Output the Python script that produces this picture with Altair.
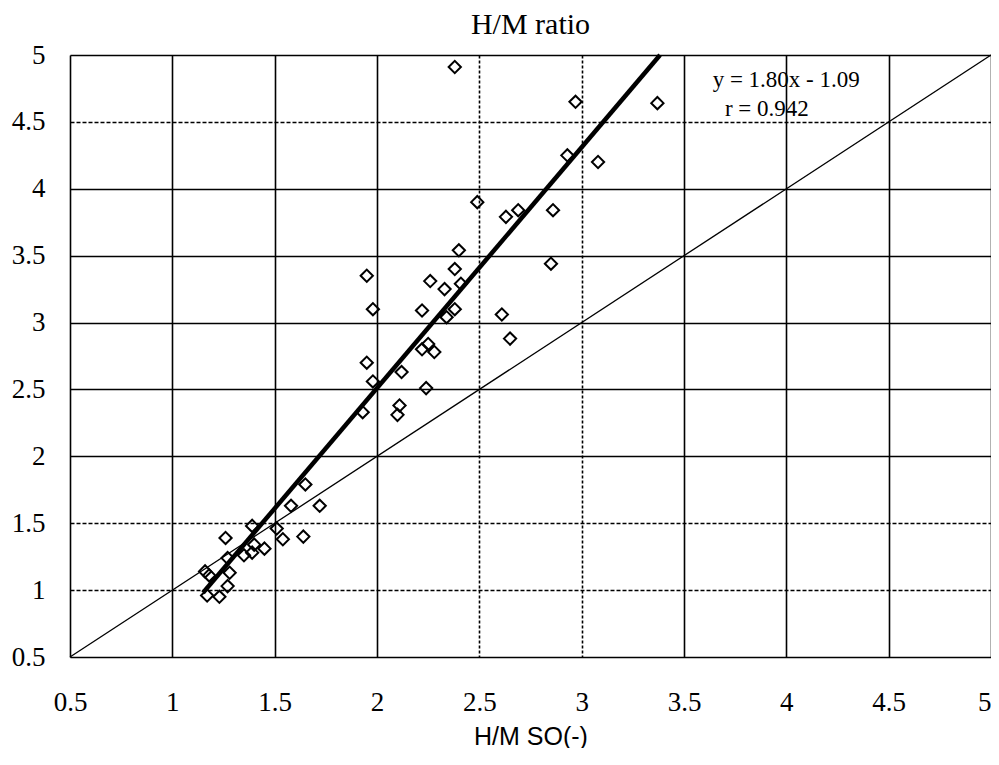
import altair as alt
import pandas as pd

# scatter values
x_vals = [2.38, 2.97, 3.37, 2.93, 3.08, 2.49, 2.63, 2.69, 2.86, 2.40,
          2.85, 1.95, 2.38, 2.26, 2.33, 2.41, 1.98, 2.22, 2.38, 2.34,
          2.61, 2.65, 2.22, 2.25, 2.28, 1.95, 2.12, 1.98, 2.24, 2.11,
          2.10, 1.93, 1.65, 1.58, 1.72, 1.39, 1.51, 1.26, 1.54, 1.64,
          1.40, 1.45, 1.35, 1.39, 1.27, 1.16, 1.18, 1.28, 1.27, 1.17, 1.23]
y_vals = [4.91, 4.65, 4.64, 4.25, 4.20, 3.90, 3.79, 3.84, 3.84, 3.54,
          3.44, 3.35, 3.40, 3.31, 3.25, 3.29, 3.10, 3.09, 3.10, 3.04,
          3.06, 2.88, 2.80, 2.84, 2.78, 2.70, 2.63, 2.56, 2.51, 2.38,
          2.31, 2.33, 1.79, 1.63, 1.63, 1.48, 1.46, 1.39, 1.38, 1.40,
          1.34, 1.31, 1.26, 1.28, 1.24, 1.14, 1.11, 1.13, 1.03, 0.96, 0.95]

# regression y = 1.80x - 1.09, drawn between its visible ends
slope = 1.80
intercept = -1.09
fit_x = [1.15, 3.383]
fit_y = [slope * v + intercept for v in fit_x]

# 1:1 line
diag_x = [0.5, 5.0]
diag_y = [0.5, 5.0]

tick_vals = [0.5, 1, 1.5, 2, 2.5, 3, 3.5, 4, 4.5, 5]

ann_text = ["y = 1.80x - 1.09", "r = 0.942"]
ann_x = [3.64, 3.70]
ann_y = [4.81, 4.60]

pts = pd.DataFrame({"x": x_vals, "y": y_vals})
fit = pd.DataFrame({"x": fit_x, "y": fit_y})
diag = pd.DataFrame({"x": diag_x, "y": diag_y})
ann = pd.DataFrame({"t": ann_text, "x": ann_x, "y": ann_y})

serif = "Liberation Serif"

xscale = alt.Scale(domain=[0.5, 5], nice=False, zero=False)
yscale = alt.Scale(domain=[0.5, 5], nice=False, zero=False)

xaxis = alt.Axis(
    values=tick_vals, format="~g", title="H/M SO(-)",
    titleFont="Liberation Sans", titleFontSize=25, titleFontWeight="normal",
    titleColor="black", titlePadding=9,
    labelFont=serif, labelFontSize=27, labelColor="black", labelPadding=32,
    labelAlign={"condition": {"test": "datum.value == 5", "value": "right"},
                "value": "center"},
    ticks=False, tickSize=0, domain=False, labelFlush=False,
    grid=True, gridColor="black", gridWidth=1.6, gridOpacity=1,
    gridDash={"condition": {"test": "datum.value == 2.5 || datum.value == 3",
                            "value": [3, 2]}, "value": []},
)
yaxis = alt.Axis(
    values=tick_vals, format="~g", title=None,
    labelFont=serif, labelFontSize=27, labelColor="black", labelPadding=25,
    ticks=False, tickSize=0, domain=False, labelFlush=False,
    grid=True, gridColor="black", gridWidth=1.6, gridOpacity=1,
    gridDash={"condition": {"test": "datum.value == 4.5 || datum.value == 1.5 || datum.value == 1",
                            "value": [4, 2]}, "value": []},
)

base_x = alt.X("x:Q", scale=xscale, axis=xaxis)
base_y = alt.Y("y:Q", scale=yscale, axis=yaxis)

diag_layer = alt.Chart(diag).mark_line(color="black", strokeWidth=1.3).encode(
    x=alt.X("x:Q", scale=xscale), y=alt.Y("y:Q", scale=yscale))
fit_layer = alt.Chart(fit).mark_line(color="black", strokeWidth=4.5).encode(
    x=alt.X("x:Q", scale=xscale), y=alt.Y("y:Q", scale=yscale))
pts_layer = alt.Chart(pts).mark_point(
    shape="diamond", filled=False, color="black", strokeWidth=2, size=150, opacity=1
).encode(x=base_x, y=base_y)
ann_layer = alt.Chart(ann).mark_text(
    align="left", baseline="middle", font=serif, fontSize=23, color="black"
).encode(x=alt.X("x:Q", scale=xscale), y=alt.Y("y:Q", scale=yscale), text="t:N")

chart = alt.layer(pts_layer, diag_layer, fit_layer, ann_layer).properties(
    width=921, height=602,
    title=alt.TitleParams("H/M ratio", font=serif, fontSize=30, fontWeight="normal",
                          color="black", anchor="middle", offset=1),
    autosize=alt.AutoSizeParams(type="none"),
    padding={"left": 62, "top": 47, "right": 0, "bottom": 91},
).configure_view(stroke="black", strokeWidth=2).configure(background="white")

chart.save("out.html", embed_options={"renderer": "svg", "actions": False})
